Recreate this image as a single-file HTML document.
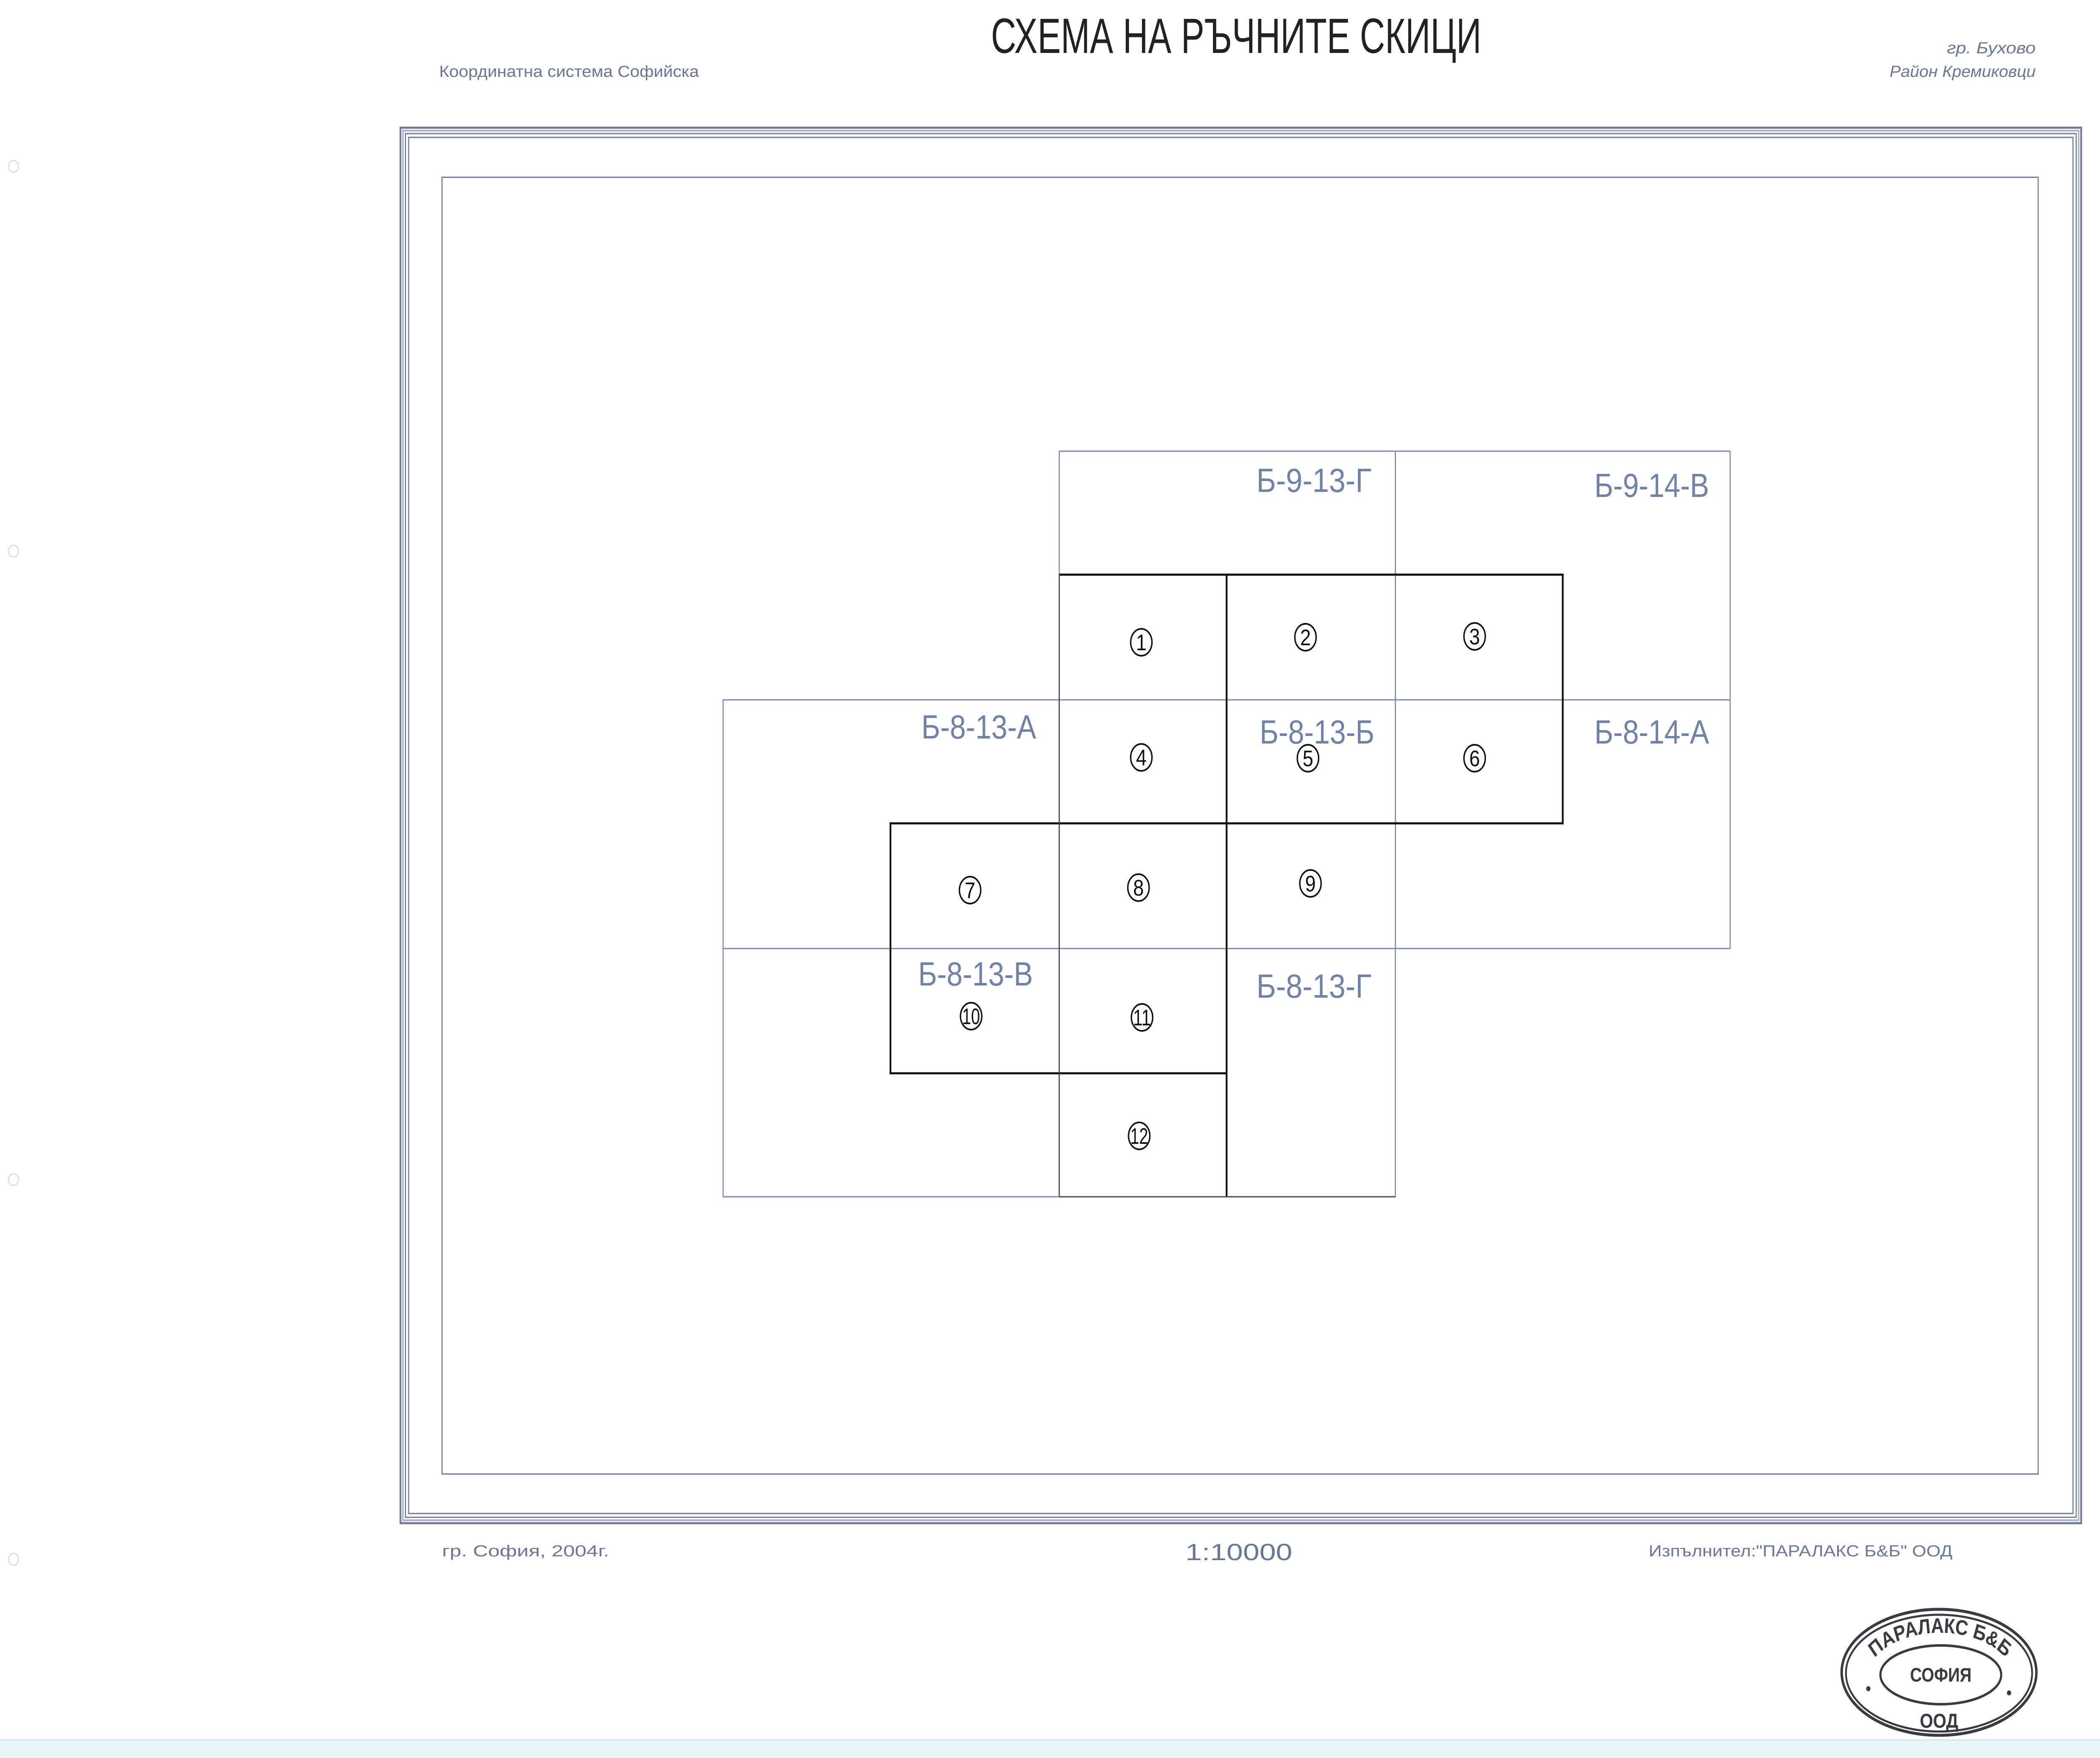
<!DOCTYPE html>
<html><head><meta charset="utf-8">
<style>
html,body{margin:0;padding:0;background:#fff;width:100%;height:100%;overflow:hidden;}
svg{display:block;width:100vw;height:100vh;}
</style></head>
<body>
<svg viewBox="0 0 5910 4185" preserveAspectRatio="none" xmlns="http://www.w3.org/2000/svg">
<rect x="0" y="0" width="5910" height="4185" fill="#fff"/>
<rect x="0" y="4142" width="5910" height="43" fill="#e9f6f8"/>
<line x1="0" y1="4142" x2="5910" y2="4142" stroke="#cfe3ea" stroke-width="3"/>

<g fill="none" stroke="#d8dde4" stroke-width="3">
<circle cx="38" cy="396" r="14"/><circle cx="38" cy="1312" r="14"/><circle cx="38" cy="2808" r="14"/><circle cx="38" cy="3712" r="14"/>
</g>

<text x="2789" y="126" textLength="1380" lengthAdjust="spacingAndGlyphs" font-family="Liberation Sans, sans-serif" font-size="118" fill="#222">СХЕМА НА РЪЧНИТЕ СКИЦИ</text>
<g font-family="Liberation Sans, sans-serif" fill="#6a7896" font-size="38">
<text x="1236" y="183" textLength="731" lengthAdjust="spacingAndGlyphs">Координатна система Софийска</text>
<text x="5729" y="127" text-anchor="end" font-style="italic" textLength="250" lengthAdjust="spacingAndGlyphs">гр. Бухово</text>
<text x="5729" y="183" text-anchor="end" font-style="italic" textLength="411" lengthAdjust="spacingAndGlyphs">Район Кремиковци</text>
<text x="1244" y="3705" textLength="470" lengthAdjust="spacingAndGlyphs">гр. София, 2004г.</text>
<text x="3336" y="3714" font-size="56" textLength="301" lengthAdjust="spacingAndGlyphs">1:10000</text>
<text x="4640" y="3705" textLength="855" lengthAdjust="spacingAndGlyphs">Изпълнител:"ПАРАЛАКС Б&amp;Б" ООД</text>
</g>

<g fill="none" stroke="#6f7a98">
<rect x="1127" y="304" width="4730" height="3322" stroke-width="5"/>
<rect x="1134" y="311" width="4716" height="3308" stroke-width="4" stroke="#a9b1c6"/>
<rect x="1141" y="318" width="4702" height="3294" stroke-width="3"/>
<rect x="1150" y="327" width="4684" height="3276" stroke-width="3"/>
<rect x="1244" y="422" width="4492" height="3087" stroke-width="3"/>
</g>

<g fill="none" stroke="#7c89aa" stroke-width="3">
<rect x="2981" y="1074" width="946" height="592"/>
<rect x="3927" y="1074" width="942" height="592"/>
<rect x="2035" y="1666" width="946" height="592"/>
<rect x="2981" y="1666" width="946" height="592"/>
<rect x="3927" y="1666" width="942" height="592"/>
<rect x="2035" y="2258" width="946" height="591"/>
<rect x="2981" y="2258" width="946" height="591"/>
</g>

<g fill="none" stroke="#111" stroke-width="5">
<polyline points="2981,1368 4398,1368 4398,1960 2506,1960 2506,2555 3452,2555"/>
<line x1="3452" y1="1368" x2="3452" y2="2849"/>
<line x1="2981" y1="1368" x2="2981" y2="2849" stroke="#444" stroke-width="3"/>
<line x1="2981" y1="2849" x2="3927" y2="2849" stroke="#444" stroke-width="3"/>
</g>

<g font-family="Liberation Sans, sans-serif" fill="#7082a8" font-size="80">
<text x="3536" y="1171" textLength="324" lengthAdjust="spacingAndGlyphs">Б-9-13-Г</text>
<text x="4487" y="1183" textLength="323" lengthAdjust="spacingAndGlyphs">Б-9-14-В</text>
<text x="2593" y="1758" textLength="323" lengthAdjust="spacingAndGlyphs">Б-8-13-А</text>
<text x="3545" y="1770" textLength="323" lengthAdjust="spacingAndGlyphs">Б-8-13-Б</text>
<text x="4487" y="1770" textLength="323" lengthAdjust="spacingAndGlyphs">Б-8-14-А</text>
<text x="2584" y="2346" textLength="323" lengthAdjust="spacingAndGlyphs">Б-8-13-В</text>
<text x="3536" y="2375" textLength="324" lengthAdjust="spacingAndGlyphs">Б-8-13-Г</text>
</g>

<g font-family="Liberation Sans, sans-serif" font-size="54" fill="#111" text-anchor="middle">
<g fill="none" stroke="#111" stroke-width="4">
<ellipse cx="3212" cy="1529" rx="30" ry="32"/>
<ellipse cx="3674" cy="1517" rx="30" ry="32"/>
<ellipse cx="4150" cy="1515" rx="30" ry="32"/>
<ellipse cx="3212" cy="1803" rx="30" ry="32"/>
<ellipse cx="3681" cy="1805" rx="30" ry="32"/>
<ellipse cx="4150" cy="1805" rx="30" ry="32"/>
<ellipse cx="2730" cy="2119" rx="30" ry="32"/>
<ellipse cx="3204" cy="2113" rx="30" ry="32"/>
<ellipse cx="3688" cy="2103" rx="30" ry="32"/>
<ellipse cx="2733" cy="2419" rx="30" ry="32"/>
<ellipse cx="3214" cy="2422" rx="30" ry="32"/>
<ellipse cx="3206" cy="2704" rx="30" ry="32"/>
</g>
<text x="3212" y="1548">1</text>
<text x="3674" y="1536">2</text>
<text x="4150" y="1534">3</text>
<text x="3212" y="1822">4</text>
<text x="3681" y="1824">5</text>
<text x="4150" y="1824">6</text>
<text x="2730" y="2138">7</text>
<text x="3204" y="2132">8</text>
<text x="3688" y="2122">9</text>
<text x="2733" y="2438" textLength="50" lengthAdjust="spacingAndGlyphs">10</text>
<text x="3214" y="2441" textLength="50" lengthAdjust="spacingAndGlyphs">11</text>
<text x="3206" y="2723" textLength="50" lengthAdjust="spacingAndGlyphs">12</text>
</g>

<g fill="none" stroke="#3a3a40">
<ellipse cx="5457" cy="3981" rx="274" ry="150" stroke-width="7"/>
<ellipse cx="5457" cy="3983" rx="262" ry="139" stroke-width="5"/>
<ellipse cx="5462" cy="3987" rx="170" ry="70" stroke-width="6"/>
</g>
<circle cx="5258" cy="4020" r="6" fill="#3a3a40"/>
<circle cx="5654" cy="4030" r="6" fill="#3a3a40"/>
<defs>
<path id="arc" d="M5255,3995 A205,108 0 0 1 5665,3995"/>
</defs>
<g font-family="Liberation Sans, sans-serif" font-weight="bold" fill="#3a3a40">
<text font-size="50"><textPath href="#arc" startOffset="50%" text-anchor="middle">ПАРАЛАКС Б&amp;Б</textPath></text>
<text x="5462" y="4003" font-size="46" text-anchor="middle">СОФИЯ</text>
<text x="5457" y="4113" font-size="48" text-anchor="middle">ООД</text>
</g>
</svg>
</body></html>
